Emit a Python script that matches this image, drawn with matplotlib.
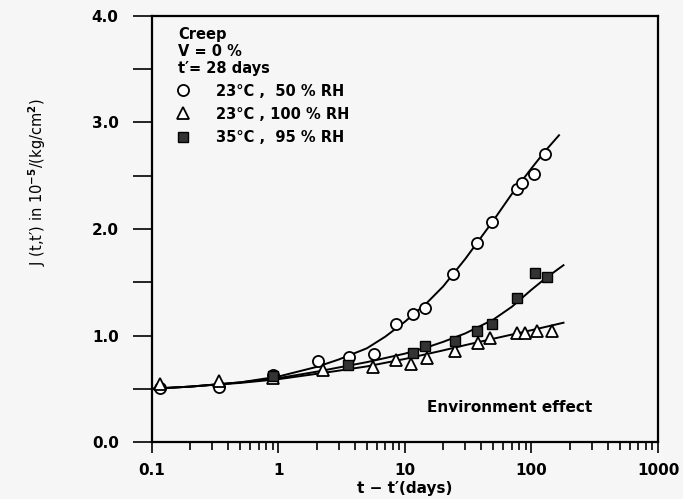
import matplotlib
matplotlib.use('Agg')
import matplotlib.pyplot as plt
from matplotlib.ticker import LogLocator, NullFormatter, MultipleLocator

# measured creep compliance, J(t,t') in 1e-5/(kg/cm2)
circ_t = [0.115, 0.34, 0.9, 2.04, 3.64, 5.74, 8.53, 11.6, 14.3, 24.0, 36.8, 48.4, 76.4, 83.8, 104, 128]
circ_j = [0.51, 0.52, 0.63, 0.76, 0.80, 0.83, 1.11, 1.20, 1.26, 1.58, 1.87, 2.07, 2.38, 2.43, 2.52, 2.70]

tri_t = [0.115, 0.34, 0.9, 2.23, 5.57, 8.53, 11.2, 14.8, 24.8, 37.9, 47.0, 76.4, 89.1, 110, 144]
tri_j = [0.54, 0.57, 0.60, 0.68, 0.70, 0.77, 0.73, 0.79, 0.85, 0.93, 0.98, 1.02, 1.02, 1.04, 1.04]

sq_t = [0.9, 3.53, 11.6, 14.3, 24.8, 36.8, 48.4, 76.4, 107, 132]
sq_j = [0.62, 0.725, 0.835, 0.90, 0.95, 1.04, 1.11, 1.35, 1.59, 1.55]

# fitted curves
circ_fit_t = [0.1, 0.2, 0.5, 1, 2, 3, 5, 7, 10, 15, 20, 30, 50, 70, 100, 130, 165]
circ_fit_j = [0.50, 0.52, 0.56, 0.615, 0.705, 0.775, 0.88, 0.99, 1.13, 1.31, 1.46, 1.72, 2.08, 2.33, 2.57, 2.74, 2.88]

sq_fit_t = [0.1, 0.2, 0.5, 1, 2, 3, 5, 10, 15, 20, 30, 50, 70, 100, 130, 179]
sq_fit_j = [0.50, 0.52, 0.56, 0.60, 0.66, 0.70, 0.75, 0.83, 0.89, 0.94, 1.02, 1.15, 1.27, 1.43, 1.54, 1.66]

tri_fit_t = [0.1, 0.2, 0.5, 1, 2, 3, 5, 10, 20, 30, 50, 100, 179]
tri_fit_j = [0.50, 0.52, 0.555, 0.59, 0.64, 0.67, 0.71, 0.78, 0.86, 0.91, 0.97, 1.05, 1.12]

labels = ['23°C ,  50 % RH', '23°C , 100 % RH', '35°C ,  95 % RH']
xtick_vals = [0.1, 1, 10, 100, 1000]
xtick_labels = ['0.1', '1', '10', '100', '1000']
ytick_vals = [0, 1, 2, 3, 4]
ytick_labels = ['0.0', '1.0', '2.0', '3.0', '4.0']

plt.rcParams['font.family'] = ['DejaVu Sans']
plt.rcParams['font.size'] = 10.5
plt.rcParams['font.weight'] = 'bold'

fig = plt.figure(figsize=(6.83, 4.99), dpi=100)
fig.patch.set_facecolor('#f5f6f5')
ax = fig.add_axes([0.2225, 0.1142, 0.7409, 0.8538])
ax.set_facecolor('#f5f6f5')

ax.plot(circ_fit_t, circ_fit_j, color='black', lw=1.4, zorder=2)
ax.plot(sq_fit_t, sq_fit_j, color='black', lw=1.4, zorder=2)
ax.plot(tri_fit_t, tri_fit_j, color='black', lw=1.4, zorder=2)

h1, = ax.plot(circ_t, circ_j, 'o', ms=8, mfc='white', mec='black', mew=1.3, label=labels[0], zorder=3)
h2, = ax.plot(tri_t, tri_j, '^', ms=8, mfc='white', mec='black', mew=1.3, label=labels[1], zorder=3)
h3, = ax.plot(sq_t, sq_j, 's', ms=7, mfc='#333333', mec='black', mew=1.0, label=labels[2], zorder=4)

ax.set_xscale('log')
ax.set_xlim(0.1, 1000)
ax.set_ylim(0, 4)
ax.set_xticks(xtick_vals)
ax.set_xticklabels(xtick_labels)
ax.xaxis.set_minor_locator(LogLocator(base=10, subs=range(2, 10)))
ax.xaxis.set_minor_formatter(NullFormatter())
ax.set_yticks(ytick_vals)
ax.set_yticklabels(ytick_labels)
ax.yaxis.set_minor_locator(MultipleLocator(0.5))

ax.tick_params(axis='y', which='both', direction='out', length=14, width=1.2, pad=10, labelsize=11)
ax.tick_params(axis='x', which='major', direction='out', length=8, width=1.2, pad=7, labelsize=11)
ax.tick_params(axis='x', which='minor', direction='out', length=6, width=1.2)
for s in ax.spines.values():
    s.set_linewidth(1.6)

ax.set_xlabel("t − t′(days)", fontsize=11, fontweight='bold', labelpad=2)
ax.set_ylabel("J (t,t′) in 10$^{-5}$/(kg/cm$^2$)", fontsize=10.5)
ax.yaxis.set_label_coords(-0.205, 0.61)

ax.text(0.051, 0.975, "Creep\nV = 0 %\nt′= 28 days", transform=ax.transAxes,
        ha='left', va='top', fontsize=10.5, linespacing=1.2)
ax.legend(handles=[h1, h2, h3], loc='upper left', bbox_to_anchor=(0.035, 0.855),
          frameon=False, numpoints=1, handlelength=1.0, handletextpad=1.8,
          labelspacing=0.55, prop={'size': 10.5, 'weight': 'bold'}, borderaxespad=0)
ax.text(0.707, 0.082, "Environment effect", transform=ax.transAxes,
        ha='center', va='center', fontsize=11)

fig.savefig('out.png', dpi=100, facecolor=fig.get_facecolor())
